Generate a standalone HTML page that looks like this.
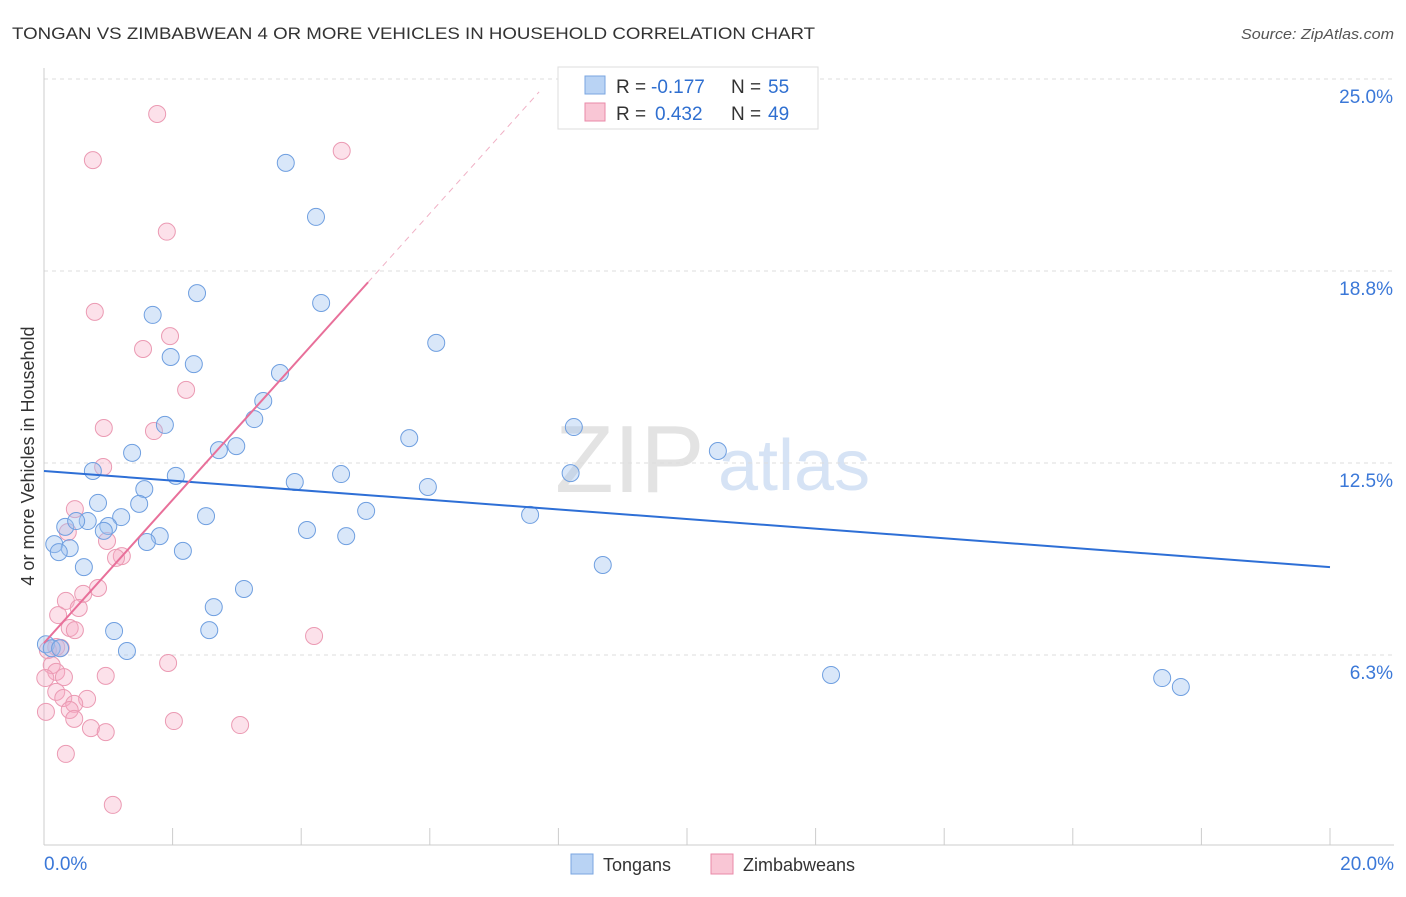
<!DOCTYPE html>
<html><head><meta charset="utf-8">
<style>
body{margin:0;background:#fff;font-family:"Liberation Sans",sans-serif;}
svg text{font-family:"Liberation Sans",sans-serif;}
</style></head>
<body>
<svg id="chart" width="1406" height="892" viewBox="0 0 1406 892">
<text x="12" y="39" font-size="17" fill="#333" textLength="803" lengthAdjust="spacingAndGlyphs">TONGAN VS ZIMBABWEAN 4 OR MORE VEHICLES IN HOUSEHOLD CORRELATION CHART</text>
<text x="1241" y="39" font-size="15" fill="#555" font-style="italic" textLength="153" lengthAdjust="spacingAndGlyphs">Source: ZipAtlas.com</text>
<text x="555" y="492" font-size="96" fill="#e3e3e3" font-family="Liberation Serif, serif">ZIP</text>
<text x="718" y="490" font-size="72" fill="#d6e3f5">atlas</text>
<g id="grid"></g>
<g id="axes"></g>
<g id="marks"></g>
<text transform="translate(34,456) rotate(-90)" font-size="18" fill="#333" text-anchor="middle">4 or more Vehicles in Household</text>
<g>
<rect x="558" y="67" width="260" height="62" fill="#fff" stroke="#ddd"/>
<rect x="585" y="76" width="20" height="18" fill="#b9d3f4" stroke="#7aa6e0"/>
<text x="616" y="93" font-size="19" fill="#333">R =</text>
<text x="651" y="93" font-size="19" fill="#2f6fd0">-0.177</text>
<text x="731" y="93" font-size="19" fill="#333">N =</text>
<text x="768" y="93" font-size="19" fill="#2f6fd0">55</text>
<rect x="585" y="103" width="20" height="18" fill="#f9c6d5" stroke="#e98aa8"/>
<text x="616" y="120" font-size="19" fill="#333">R =</text>
<text x="655" y="120" font-size="19" fill="#2f6fd0">0.432</text>
<text x="731" y="120" font-size="19" fill="#333">N =</text>
<text x="768" y="120" font-size="19" fill="#2f6fd0">49</text>
</g>
<g>
<rect x="571" y="854" width="22" height="20" fill="#b9d3f4" stroke="#7aa6e0"/>
<text x="603" y="871" font-size="18" fill="#333">Tongans</text>
<rect x="711" y="854" width="22" height="20" fill="#f9c6d5" stroke="#e98aa8"/>
<text x="743" y="871" font-size="18" fill="#333">Zimbabweans</text>
</g>
</svg>
<script>
const yTicks=[6.25,12.5,18.75,25];
const yTickLabels=["6.3%","12.5%","18.8%","25.0%"];
const xTickLabels=["0.0%","20.0%"];
const tonganX=[3.76,4.23,2.38,4.31,1.69,6.10,1.97,2.33,3.67,3.41,3.27,1.88,2.99,2.72,5.68,8.24,10.48,1.37,0.76,2.05,3.90,4.62,5.97,8.19,1.56,0.84,1.48,5.01,1.20,2.52,7.56,0.68,0.33,0.50,1.00,0.93,4.09,4.70,1.80,1.60,0.16,0.40,0.23,2.16,0.62,8.69,3.11,2.64,1.09,2.57,0.03,0.12,0.25,1.29,12.24,17.39,17.68];
const tonganY=[22.27,20.51,18.03,17.71,17.32,16.41,15.95,15.72,15.43,14.52,13.93,13.74,13.05,12.92,13.31,13.67,12.89,12.83,12.24,12.08,11.88,12.14,11.72,12.17,11.65,11.20,11.17,10.94,10.74,10.77,10.81,10.61,10.42,10.61,10.45,10.29,10.32,10.12,10.12,9.93,9.86,9.73,9.60,9.64,9.11,9.18,8.40,7.81,7.03,7.06,6.60,6.47,6.47,6.38,5.60,5.50,5.21];
const zimX=[1.76,0.76,4.63,1.91,0.79,1.96,1.54,2.21,0.93,1.71,0.92,0.48,0.37,0.98,1.21,1.12,0.84,0.61,0.34,0.54,0.22,0.40,0.48,4.20,0.19,0.26,0.06,0.12,0.19,0.02,0.31,0.96,1.93,0.19,0.30,0.67,0.47,0.40,0.03,0.47,2.02,3.05,0.73,0.96,0.34,1.07];
const zimY=[23.86,22.36,22.66,20.03,17.42,16.63,16.21,14.88,13.64,13.54,12.37,11.00,10.25,9.96,9.47,9.41,8.43,8.24,8.01,7.78,7.55,7.13,7.06,6.87,6.51,6.48,6.41,5.92,5.70,5.50,5.53,5.57,5.99,5.05,4.85,4.82,4.66,4.46,4.40,4.17,4.10,3.97,3.87,3.74,3.03,1.37];
const tonganTrend=[12.24,-0.1565];
const zimTrend=[6.64,2.33];
const NS="http://www.w3.org/2000/svg";
const X=v=>44+v/20*1286;
const Y=v=>847-v*30.72;
function mk(tag,attrs,parent){const e=document.createElementNS(NS,tag);for(const k in attrs)e.setAttribute(k,attrs[k]);document.getElementById(parent).appendChild(e);return e;}
yTicks.forEach((t,i)=>{
 const g=mk('line',{x1:44,x2:1394,y1:Y(t),y2:Y(t),stroke:'#ddd','stroke-dasharray':'4,4'},'grid');
 
 
 const l=mk('text',{x:1393,y:Y(t)+24,'font-size':19,fill:'#3b78d8','text-anchor':'end'},'axes');
 l.textContent=yTickLabels[i];
 
 
});
const ax=mk('line',{x1:44,x2:1394,y1:845,y2:845,stroke:'#ccc'},'axes');


const ay=mk('line',{x1:44,x2:44,y1:68,y2:845,stroke:'#ccc'},'axes');


for(let i=0;i<=10;i++){
 const t=mk('line',{x1:X(i*2),x2:X(i*2),y1:828,y2:845,stroke:'#ccc'},'axes');
 
 
}
[[0,'start',44],[20,'end',1394]].forEach((d,i)=>{
 const l=mk('text',{x:d[2],y:870,'font-size':19,fill:'#3b78d8','text-anchor':d[1]},'axes');
 l.textContent=xTickLabels[i];
 
 
});
zimX.forEach((x,i)=>{
 const c=mk('circle',{cx:X(x),cy:Y(zimY[i]),r:8.5,fill:'rgba(245,170,195,0.35)',stroke:'#eb9ab3','stroke-width':1},'marks');
 
 
});
tonganX.forEach((x,i)=>{
 const c=mk('circle',{cx:X(x),cy:Y(tonganY[i]),r:8.5,fill:'rgba(160,195,240,0.4)',stroke:'#6f9fe0','stroke-width':1},'marks');
 
 
});
const bt=mk('line',{x1:X(0),y1:Y(tonganTrend[0]),x2:X(20),y2:Y(tonganTrend[0]+20*tonganTrend[1]),stroke:'#2e6fd6','stroke-width':2},'marks');


const zEnd=5.04,zDash=7.7;
const pt=mk('line',{x1:X(0),y1:Y(zimTrend[0]),x2:X(zEnd),y2:Y(zimTrend[0]+zEnd*zimTrend[1]),stroke:'#e8709a','stroke-width':2},'marks');


const pd=mk('line',{x1:X(zEnd),y1:Y(zimTrend[0]+zEnd*zimTrend[1]),x2:X(zDash),y2:Y(zimTrend[0]+zDash*zimTrend[1]),stroke:'#f0b0c5','stroke-width':1,'stroke-dasharray':'6,5'},'marks');


</script>
</body></html>
